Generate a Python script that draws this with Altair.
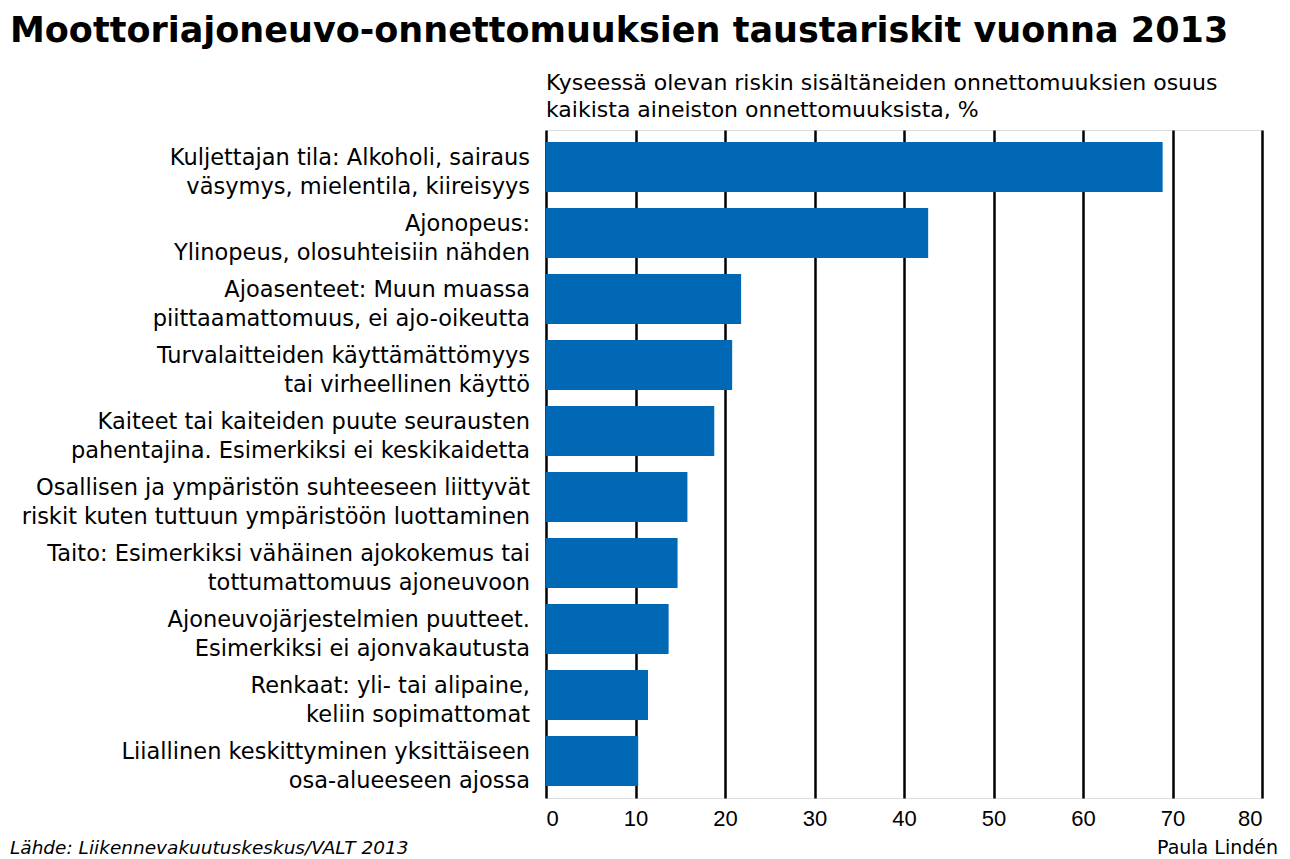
import altair as alt
import pandas as pd

labels = [
    "Kuljettajan tila: Alkoholi, sairaus\nväsymys, mielentila, kiireisyys",
    "Ajonopeus:\nYlinopeus, olosuhteisiin nähden",
    "Ajoasenteet: Muun muassa\npiittaamattomuus, ei ajo-oikeutta",
    "Turvalaitteiden käyttämättömyys\ntai virheellinen käyttö",
    "Kaiteet tai kaiteiden puute seurausten\npahentajina. Esimerkiksi ei keskikaidetta",
    "Osallisen ja ympäristön suhteeseen liittyvät\nriskit kuten tuttuun ympäristöön luottaminen",
    "Taito: Esimerkiksi vähäinen ajokokemus tai\ntottumattomuus ajoneuvoon",
    "Ajoneuvojärjestelmien puutteet.\nEsimerkiksi ei ajonvakautusta",
    "Renkaat: yli- tai alipaine,\nkeliin sopimattomat",
    "Liiallinen keskittyminen yksittäiseen\nosa-alueeseen ajossa",
]
values = [68.9, 42.7, 21.8, 20.8, 18.8, 15.8, 14.7, 13.7, 11.4, 10.3]
ticks = [0, 10, 20, 30, 40, 50, 60, 70, 80]

title_text = "Moottoriajoneuvo-onnettomuuksien taustariskit vuonna 2013"
subtitle_lines = [
    "Kyseessä olevan riskin sisältäneiden onnettomuuksien osuus",
    "kaikista aineiston onnettomuuksista, %",
]
source_text = "Lähde: Liikennevakuutuskeskus/VALT 2013"
credit_text = "Paula Lindén"

FONT = "DejaVu Sans, Verdana, sans-serif"
TICKFONT = "Liberation Sans, Arial, sans-serif"
BLUE = "#0068B4"

df = pd.DataFrame({"label": labels, "value": values})
one = pd.DataFrame({"a": [0]})

yenc = alt.Y(
    "label:N",
    sort=labels,
    axis=None,
    scale=alt.Scale(paddingInner=0.242, paddingOuter=0.18),
)

bars = alt.Chart(df).mark_bar(color=BLUE).encode(
    x=alt.X(
        "value:Q",
        scale=alt.Scale(domain=[0, 80], nice=False),
        axis=alt.Axis(
            values=ticks,
            grid=True,
            gridColor="black",
            gridWidth=2.5,
            gridOpacity=1,
            domain=False,
            ticks=False,
            labelFontSize=22,
            labelFont=TICKFONT,
            labelColor="black",
            labelPadding=10,
            title=None,
        ),
    ),
    y=yenc,
)

ylabels = alt.Chart(df).mark_text(
    align="right",
    baseline="middle",
    lineBreak="\n",
    fontSize=22.5,
    font=FONT,
    color="black",
    lineHeight=29,
    dy=-9,
).encode(
    y=yenc,
    x=alt.value(-16),
    text="label:N",
)

title = alt.Chart(one).mark_text(
    align="left", baseline="alphabetic", fontSize=35, fontWeight="bold",
    font=FONT, color="black",
).encode(x=alt.value(-536), y=alt.value(-88), text=alt.value(title_text))

sub1 = alt.Chart(one).mark_text(
    align="left", baseline="alphabetic", fontSize=22, font=FONT, color="black",
).encode(x=alt.value(0), y=alt.value(-40), text=alt.value(subtitle_lines[0]))

sub2 = alt.Chart(one).mark_text(
    align="left", baseline="alphabetic", fontSize=22, font=FONT, color="black",
).encode(x=alt.value(0), y=alt.value(-13), text=alt.value(subtitle_lines[1]))

source = alt.Chart(one).mark_text(
    align="left", baseline="alphabetic", fontSize=18.5, fontStyle="italic",
    font=FONT, color="black",
).encode(x=alt.value(-536), y=alt.value(724), text=alt.value(source_text))

credit = alt.Chart(one).mark_text(
    align="right", baseline="alphabetic", fontSize=19, font=FONT, color="black",
).encode(x=alt.value(732), y=alt.value(724), text=alt.value(credit_text))

chart = alt.layer(bars, ylabels, title, sub1, sub2, source, credit).properties(
    width=716,
    height=668,
    autosize=alt.AutoSizeParams(type="none"),
    padding={"left": 538, "top": 122, "right": 20, "bottom": 61},
).configure_view(stroke=None).configure(background="white")

chart.save("out.html", embed_options={"renderer": "svg", "actions": False})
